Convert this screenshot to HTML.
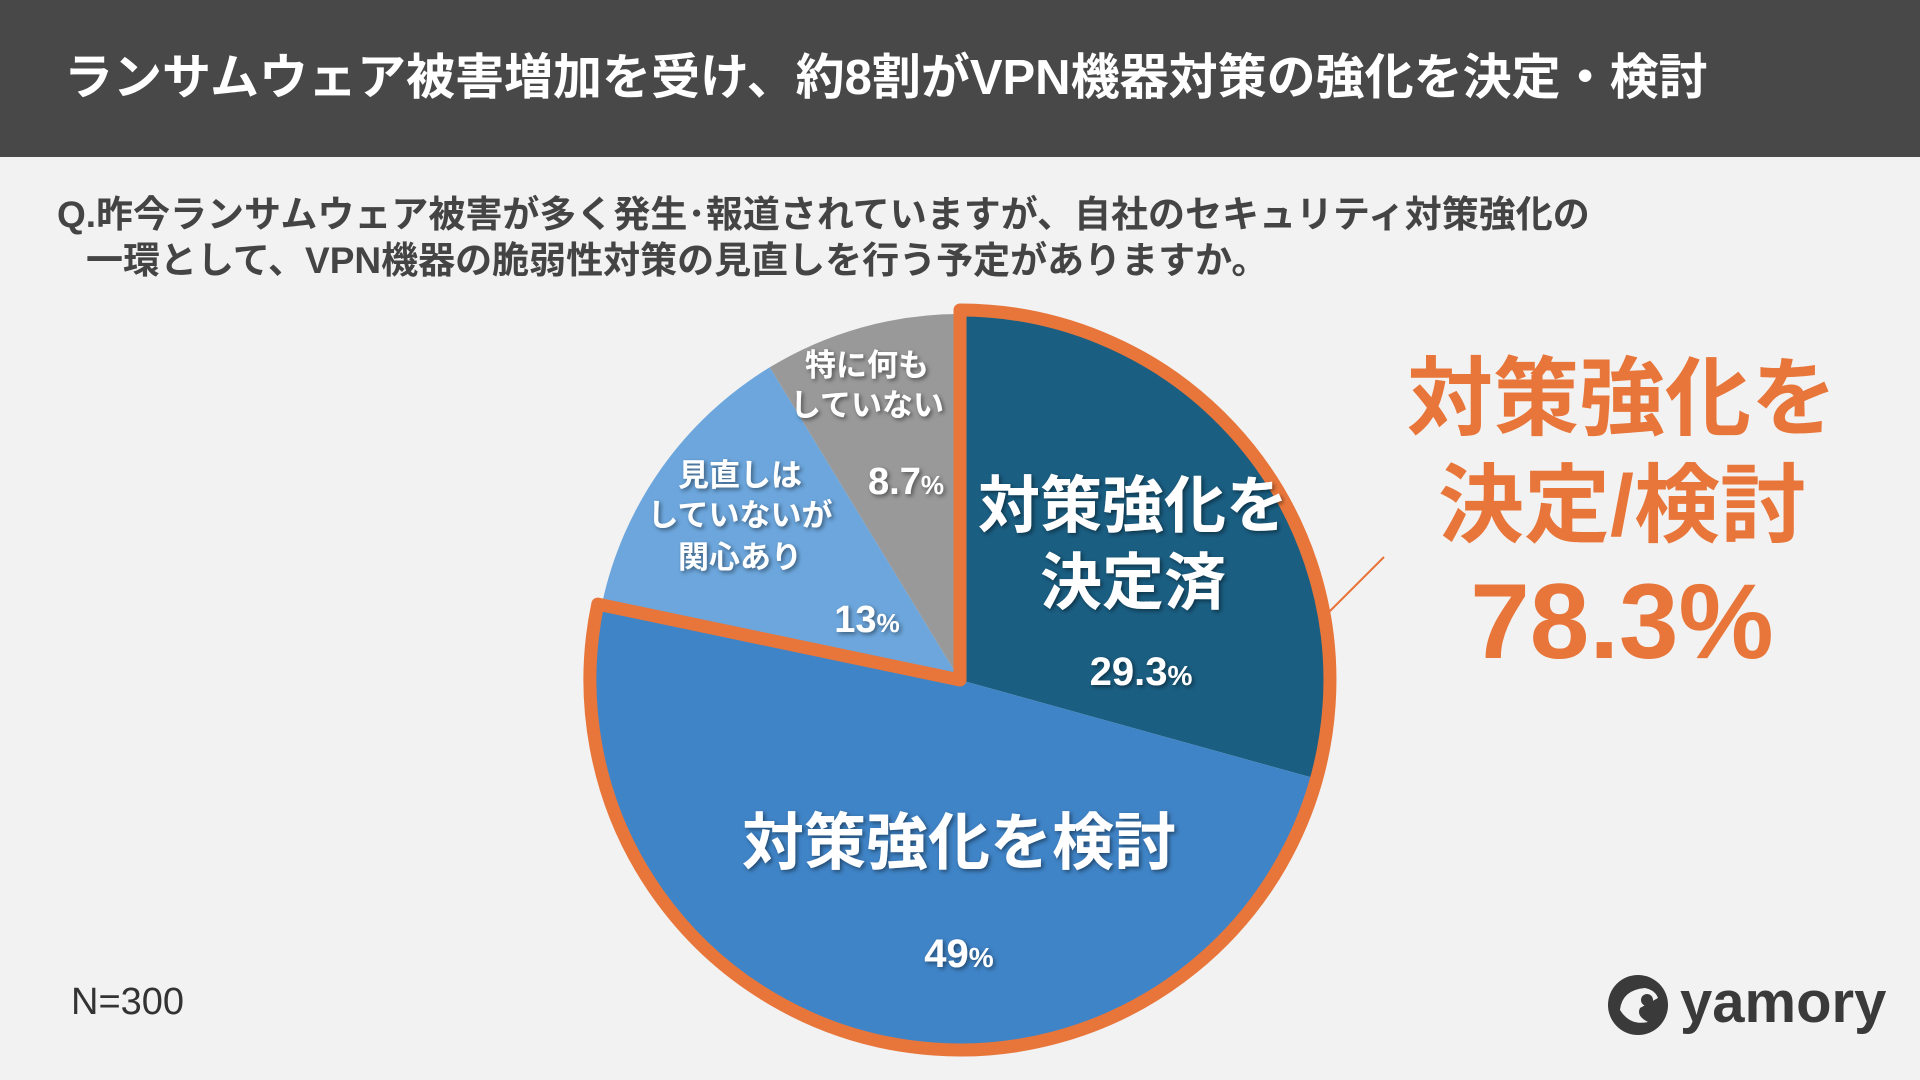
<!DOCTYPE html>
<html><head><meta charset="utf-8">
<style>
html,body{margin:0;padding:0;}
body{width:1920px;height:1080px;background:#f2f2f2;overflow:hidden;position:relative;font-family:"Liberation Sans","Noto Sans CJK JP",sans-serif;}
.hdr{position:absolute;left:0;top:0;width:1920px;height:157px;background:#484848;}
.hdr div{position:absolute;left:64px;top:48px;color:#fff;font-weight:bold;font-size:49px;line-height:60px;white-space:nowrap;}
.q{position:absolute;left:57px;color:#444;font-weight:bold;font-size:37px;line-height:46px;white-space:nowrap;}
</style></head><body>
<div class="hdr"><div>ランサムウェア被害増加を受け、約8割がVPN機器対策の強化を決定・検討</div></div>
<div class="q" style="top:192px">Q.昨今ランサムウェア被害が多く発生･報道されていますが、自社のセキュリティ対策強化の</div>
<div class="q" style="top:238px;left:86px">一環として、VPN機器の脆弱性対策の見直しを行う予定がありますか。</div>
<svg width="1920" height="1080" style="position:absolute;left:0;top:0" font-family="Liberation Sans, Noto Sans CJK JP, sans-serif">
<defs><filter id="sh" x="-20%" y="-20%" width="140%" height="140%"><feDropShadow dx="2" dy="2" stdDeviation="2" flood-color="#000" flood-opacity="0.45"/></filter></defs>
<g transform="translate(960,680)">
<path d="M0,0 L0,-366 A366,366 0 0 1 352.7,97.8 Z" fill="#1a5e82"/>
<path d="M0,0 L352.7,97.8 A366,366 0 0 1 -358.2,-75.2 Z" fill="#3f84c7"/>
<path d="M0,0 L-358.2,-75.2 A366,366 0 0 1 -190.2,-312.7 Z" fill="#6ca6dc"/>
<path d="M0,0 L-190.2,-312.7 A366,366 0 0 1 0,-366 Z" fill="#999999"/>
<path d="M0,0 L0,-370 A370,370 0 1 1 -362.2,-75.9 Z" fill="none" stroke="#e8763a" stroke-width="13" stroke-linejoin="round"/>
</g>
<line x1="1384" y1="557" x2="1329" y2="612" stroke="#e8763a" stroke-width="2"/>
<g fill="#fff" font-weight="bold" text-anchor="middle" filter="url(#sh)">
<text x="1133" y="527" font-size="62">対策強化を</text>
<text x="1133" y="604" font-size="62">決定済</text>
<text x="1141" y="685" font-size="40">29.3<tspan font-size="28">%</tspan></text>
<text x="959" y="864" font-size="62">対策強化を検討</text>
<text x="959" y="967" font-size="40">49<tspan font-size="28">%</tspan></text>
<text x="867" y="632" font-size="38">13<tspan font-size="26">%</tspan></text>
<text x="740" y="486" font-size="31">見直しは</text>
<text x="740" y="526" font-size="31">していないが</text>
<text x="740" y="568" font-size="31">関心あり</text>
<text x="867" y="376" font-size="31">特に何も</text>
<text x="867" y="416" font-size="31">していない</text>
<text x="906" y="494" font-size="38">8.7<tspan font-size="26">%</tspan></text>
</g>
<g fill="#e8763a" font-weight="bold" text-anchor="middle">
<text x="1622" y="428" font-size="86">対策強化を</text>
<text x="1622" y="535" font-size="86">決定/検討</text>
<text x="1622" y="658" font-size="107">78.3%</text>
</g>
<text x="71" y="1014" font-size="38" fill="#333">N=300</text>
<g>
<circle cx="1638" cy="1005" r="30" fill="#3a3a3a"/>
<path d="M1620,1010 Q1622,990 1645,988 Q1655,990 1658,998 L1640,1008 Q1636,1016 1648,1022 Q1630,1026 1620,1010 Z" fill="#f2f2f2"/>
<circle cx="1647" cy="1000" r="6" fill="#3a3a3a"/>
<text x="1680" y="1022" font-size="58" font-weight="bold" fill="#3a3a3a">yamory</text>
</g>
</svg>
</body></html>
